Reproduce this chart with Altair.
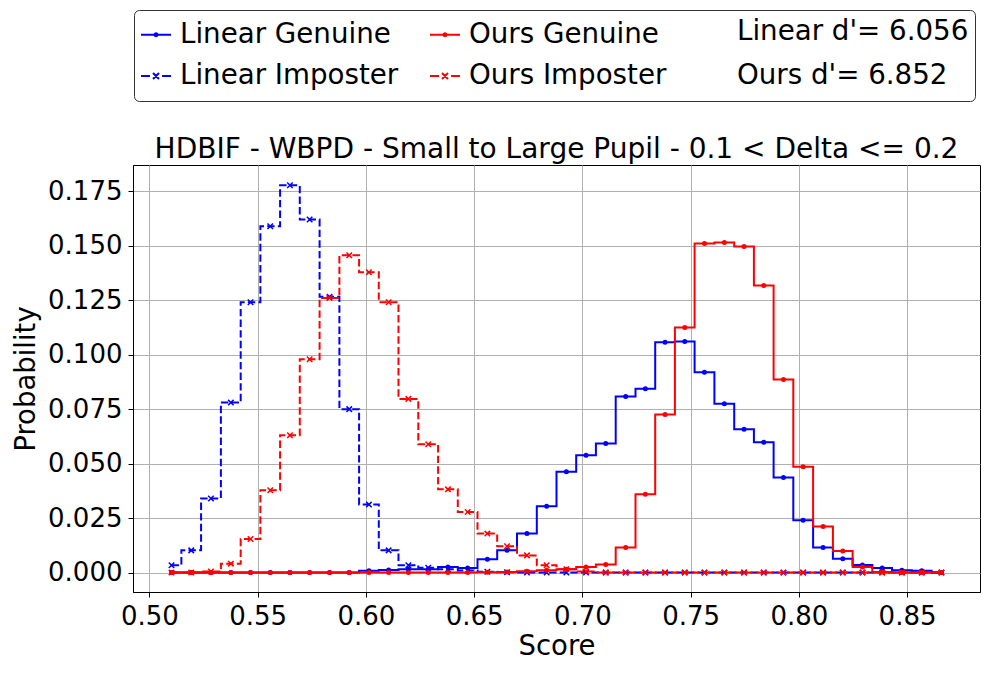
import altair as alt
import pandas as pd

# Bin centres (Score)
score = [0.5102, 0.5193, 0.5284, 0.5376, 0.5467, 0.5558, 0.5649, 0.5740, 0.5832, 0.5923,
         0.6014, 0.6105, 0.6196, 0.6288, 0.6379, 0.6470, 0.6561, 0.6652, 0.6744, 0.6835,
         0.6926, 0.7017, 0.7108, 0.7200, 0.7291, 0.7382, 0.7473, 0.7564, 0.7656, 0.7747,
         0.7838, 0.7929, 0.8020, 0.8112, 0.8203, 0.8294, 0.8385, 0.8476, 0.8568, 0.8659]

linear_genuine = [0, 0, 0, 0, 0, 0, 0, 0, 0, 0,
                  0.0008, 0.0012, 0.0015, 0.0015, 0.0026, 0.0021, 0.0061, 0.0102, 0.0179, 0.0304,
                  0.0463, 0.0538, 0.0592, 0.0808, 0.0844, 0.1057, 0.1060, 0.0919, 0.0775, 0.0658,
                  0.0598, 0.0436, 0.0240, 0.0115, 0.0064, 0.0035, 0.0021, 0.0011, 0.0008, 0.0]

linear_imposter = [0.0034, 0.0102, 0.0340, 0.0780, 0.1240, 0.1589, 0.1777, 0.1620, 0.1265, 0.0750,
                   0.0312, 0.0102, 0.0034, 0.0022, 0.0015, 0.0010, 0.0004, 0.0002, 0, 0,
                   0, 0, 0, 0, 0, 0, 0, 0, 0, 0,
                   0, 0, 0, 0, 0, 0, 0, 0, 0, 0]

ours_genuine = [0, 0, 0, 0, 0, 0, 0, 0, 0, 0,
                0, 0, 0, 0, 0, 0, 0.0002, 0.0003, 0.0006, 0.0011,
                0.0015, 0.0026, 0.0037, 0.0115, 0.0359, 0.0725, 0.1124, 0.1510, 0.1514, 0.1496,
                0.1317, 0.0886, 0.0486, 0.0211, 0.0099, 0.0026, 0.0003, 0, 0, 0]

ours_imposter = [0, 0, 0.0005, 0.0041, 0.0154, 0.0378, 0.0630, 0.0979, 0.1260, 0.1456,
                 0.1378, 0.1240, 0.0797, 0.0589, 0.0382, 0.0278, 0.0179, 0.0121, 0.0079, 0.0034,
                 0.0015, 0.0005, 0, 0, 0, 0, 0, 0, 0, 0,
                 0, 0, 0, 0, 0, 0, 0, 0, 0, 0]

series_names = ["Linear Genuine", "Linear Imposter", "Ours Genuine", "Ours Imposter"]
series_values = [linear_genuine, linear_imposter, ours_genuine, ours_imposter]
series_colors = ["#0000ff", "#0000ff", "#ff0000", "#ff0000"]
series_dashed = [False, True, False, True]

x_ticks = [0.50, 0.55, 0.60, 0.65, 0.70, 0.75, 0.80, 0.85]
y_ticks = [0.000, 0.025, 0.050, 0.075, 0.100, 0.125, 0.150, 0.175]

legend_labels = ["Linear Genuine", "Ours Genuine", "Linear d'= 6.056",
                 "Linear Imposter", "Ours Imposter", "Ours d'= 6.852"]
legend_colors = ["#0000ff", "#ff0000", "transparent", "#0000ff", "#ff0000", "transparent"]

title_text = "HDBIF - WBPD - Small to Large Pupil - 0.1 < Delta <= 0.2"

FONT = "DejaVu Sans"
X_PATH = "M-1,-1L1,1M-1,1L1,-1"
DOT_LEG = "M-1,0H1M-0.1,0A0.1,0.1 0 1,0 0.1,0A0.1,0.1 0 1,0 -0.1,0"
X_LEG = "M-1,0H-0.4M0.4,0H1M-0.2,-0.2L0.2,0.2M-0.2,0.2L0.2,-0.2"
legend_shapes = [DOT_LEG, DOT_LEG, "circle", X_LEG, X_LEG, "circle"]

rows = []
for name, vals in zip(series_names, series_values):
    for s, v in zip(score, vals):
        rows.append({"score": s, "prob": v, "series": name})
df = pd.DataFrame(rows)

x_enc = alt.X("score:Q",
              scale=alt.Scale(domain=[0.4924, 0.8837], nice=False, zero=False),
              axis=alt.Axis(values=x_ticks, format=".2f", title="Score"))
y_enc = alt.Y("prob:Q",
              scale=alt.Scale(domain=[-0.0089, 0.187], nice=False, zero=False),
              axis=alt.Axis(values=y_ticks, format=".3f", title="Probability"))

base = alt.Chart(df)
layers = []
for name, col, dashed in zip(series_names, series_colors, series_dashed):
    sub = base.transform_filter(alt.datum.series == name)
    line_kwargs = dict(interpolate="step", color=col, strokeWidth=2, clip=True)
    if dashed:
        line_kwargs["strokeDash"] = [7.4, 3.2]
    layers.append(sub.mark_line(**line_kwargs).encode(x=x_enc, y=y_enc))
    if dashed:
        layers.append(sub.mark_point(shape=X_PATH, filled=False, size=30, strokeWidth=1.5,
                                     color=col, opacity=1).encode(x=x_enc, y=y_enc))
    else:
        layers.append(sub.mark_point(shape="circle", filled=True, size=25,
                                     color=col, opacity=1).encode(x=x_enc, y=y_enc))

leg = alt.Legend(title=None, orient="none", legendX=1, legendY=-155,
                 direction="horizontal", columns=3, columnPadding=27, rowPadding=6,
                 padding=6, labelFont=FONT, labelFontSize=27.7, labelColor="black",
                 labelOffset=8, labelLimit=500, symbolSize=900, symbolStrokeWidth=2,
                 symbolOpacity=1, strokeColor="#333333", fillColor="white",
                 cornerRadius=5, labelBaseline="middle")

legend_layer = alt.Chart(pd.DataFrame({"entry": legend_labels})).mark_point(
    opacity=0, filled=False, strokeWidth=2
).encode(
    color=alt.Color("entry:N", scale=alt.Scale(domain=legend_labels, range=legend_colors), legend=leg),
    shape=alt.Shape("entry:N", scale=alt.Scale(domain=legend_labels, range=legend_shapes), legend=leg),
)

chart = alt.layer(*layers, legend_layer).properties(
    width=847, height=427,
    title=alt.Title(title_text, font=FONT, fontSize=28, fontWeight="normal",
                    color="black", anchor="middle", offset=8, dy=162),
    autosize=alt.AutoSizeParams(type="none"),
    padding={"left": 125, "top": 157, "right": 2, "bottom": 73},
).configure_view(
    stroke="black", strokeWidth=1
).configure_axis(
    labelFont=FONT, labelFontSize=26, labelColor="black",
    titleFont=FONT, titleFontSize=27.5, titleFontWeight="normal", titleColor="black",
    domainColor="black", domainWidth=1, tickColor="black", tickSize=5, tickWidth=1,
    gridColor="#b0b0b0", gridWidth=1, labelPadding=6,
).configure_axisX(
    titlePadding=3
).configure_axisY(
    titlePadding=7
)

chart.save("out.html", embed_options={"renderer": "svg", "actions": False})
